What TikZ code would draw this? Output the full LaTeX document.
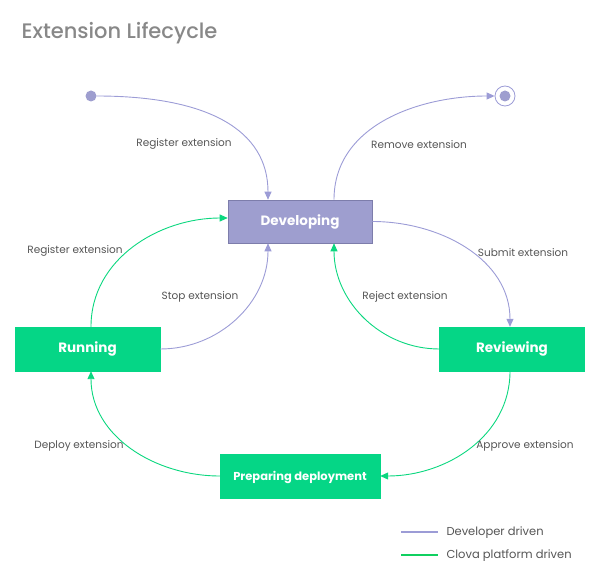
\documentclass[tikz,border=0pt]{standalone}
\usepackage{fontspec}
\setmainfont{Poppins}
\newfontfamily\titlefont{Poppins Medium}
\usepackage{tikz}
\usetikzlibrary{arrows.meta}
\definecolor{devfill}{HTML}{9E9ECF}
\definecolor{devline}{HTML}{9C9CD6}
\definecolor{platfill}{HTML}{05D686}
\definecolor{platline}{HTML}{0BD77F}
\definecolor{legendgreen}{HTML}{10D060}
\definecolor{labelgray}{HTML}{555555}
\definecolor{titlegray}{HTML}{888888}
\tikzset{
  devstate/.style={
    rectangle, minimum width=144pt, minimum height=43pt,
    draw=devline!80!black, line width=0.6pt, fill=devfill,
    text=white, font=\fontsize{13.5}{15}\selectfont\bfseries,
    text height=10pt, text depth=2pt,
  },
  platstate/.style={
    rectangle, minimum width=145pt, minimum height=44pt,
    draw=platfill, fill=platfill,
    text=white, font=\fontsize{13.5}{15}\selectfont\bfseries,
    text height=10pt, text depth=2pt,
  },
  devarrow/.style={-{Triangle[length=8pt,width=7pt]}, line width=0.9pt, color=devline},
  platarrow/.style={-{Triangle[length=8pt,width=7pt]}, line width=0.9pt, color=platline},
  lbl/.style={font=\fontsize{10.5}{12}\selectfont, text=labelgray},
  keyline/.style={line width=1.2pt},
}

\begin{document}
\begin{tikzpicture}[x=1pt, y=-1pt]
  \useasboundingbox (0,0) rectangle (600,585);

  \node[anchor=west, text=titlegray, font=\titlefont\fontsize{21}{24}\selectfont] (title) at (18,33) {Extension Lifecycle};

  % states
  \node[devstate] (dev) at (300,221.5) {Developing};
  \node[platstate] (run) at (87.5,349) {Running};
  \node[platstate] (rev) at (512,349) {Reviewing};
  \node[platstate, minimum width=160pt, font=\fontsize{11.5}{13}\selectfont\bfseries] (prep) at (300,476) {Preparing deployment};

  % start and end
  \node[circle, fill=devfill, inner sep=0pt, minimum size=11pt] (start) at (91,96) {};
  \node[circle, draw=devline, line width=0.8pt, inner sep=0pt, minimum size=20pt] (stop) at (505,96) {};
  \node[circle, fill=devfill, inner sep=0pt, minimum size=11pt] (stopdot) at (505,96) {};

  % developer driven
  \draw[devarrow] (start.east) to[out=0, in=90, out looseness=1.4, in looseness=0.9] ([xshift=-32pt]dev.north);
  \draw[devarrow] ([xshift=34pt]dev.north) to[out=90, in=180] (stop.west);
  \draw[devarrow] (dev.east) to[out=0, in=90] ([xshift=-2pt]rev.north);
  \draw[devarrow] (run.east) to[out=0, in=-90] ([xshift=-32pt]dev.south);

  % platform driven
  \draw[platarrow] (rev.west) to[out=180, in=-90] ([xshift=34pt]dev.south);
  \draw[platarrow] ([xshift=3.5pt]run.north) to[out=90, in=180] ([yshift=3.5pt]dev.west);
  \draw[platarrow] ([xshift=-2pt]rev.south) to[out=-90, in=0] (prep.east);
  \draw[platarrow] (prep.west) to[out=180, in=-90] ([xshift=3.5pt]run.south);

  % labels
  \node[lbl] (l1) at (184,143.5) {Register extension};
  \node[lbl] (l2) at (419,144.5) {Remove extension};
  \node[lbl] (l3) at (523,252.5) {Submit extension};
  \node[lbl] (l4) at (405,296.5) {Reject extension};
  \node[lbl] (l5) at (200,296.5) {Stop extension};
  \node[lbl] (l6) at (75,250.5) {Register extension};
  \node[lbl] (l7) at (525,445.5) {Approve extension};
  \node[lbl] (l8) at (79,445.5) {Deploy extension};

  % legend
  \coordinate (k1a) at (401,532);
  \coordinate (k1b) at (438,532);
  \coordinate (k2a) at (401,555);
  \coordinate (k2b) at (438,555);
  \draw[keyline, devline] (k1a) -- (k1b);
  \draw[keyline, legendgreen] (k2a) -- (k2b);
  \node[lbl, anchor=west, font=\fontsize{11.5}{13}\selectfont] (k1) at (443,533) {Developer driven};
  \node[lbl, anchor=west, font=\fontsize{11.5}{13}\selectfont] (k2) at (443,556) {Clova platform driven};
\end{tikzpicture}
\end{document}
